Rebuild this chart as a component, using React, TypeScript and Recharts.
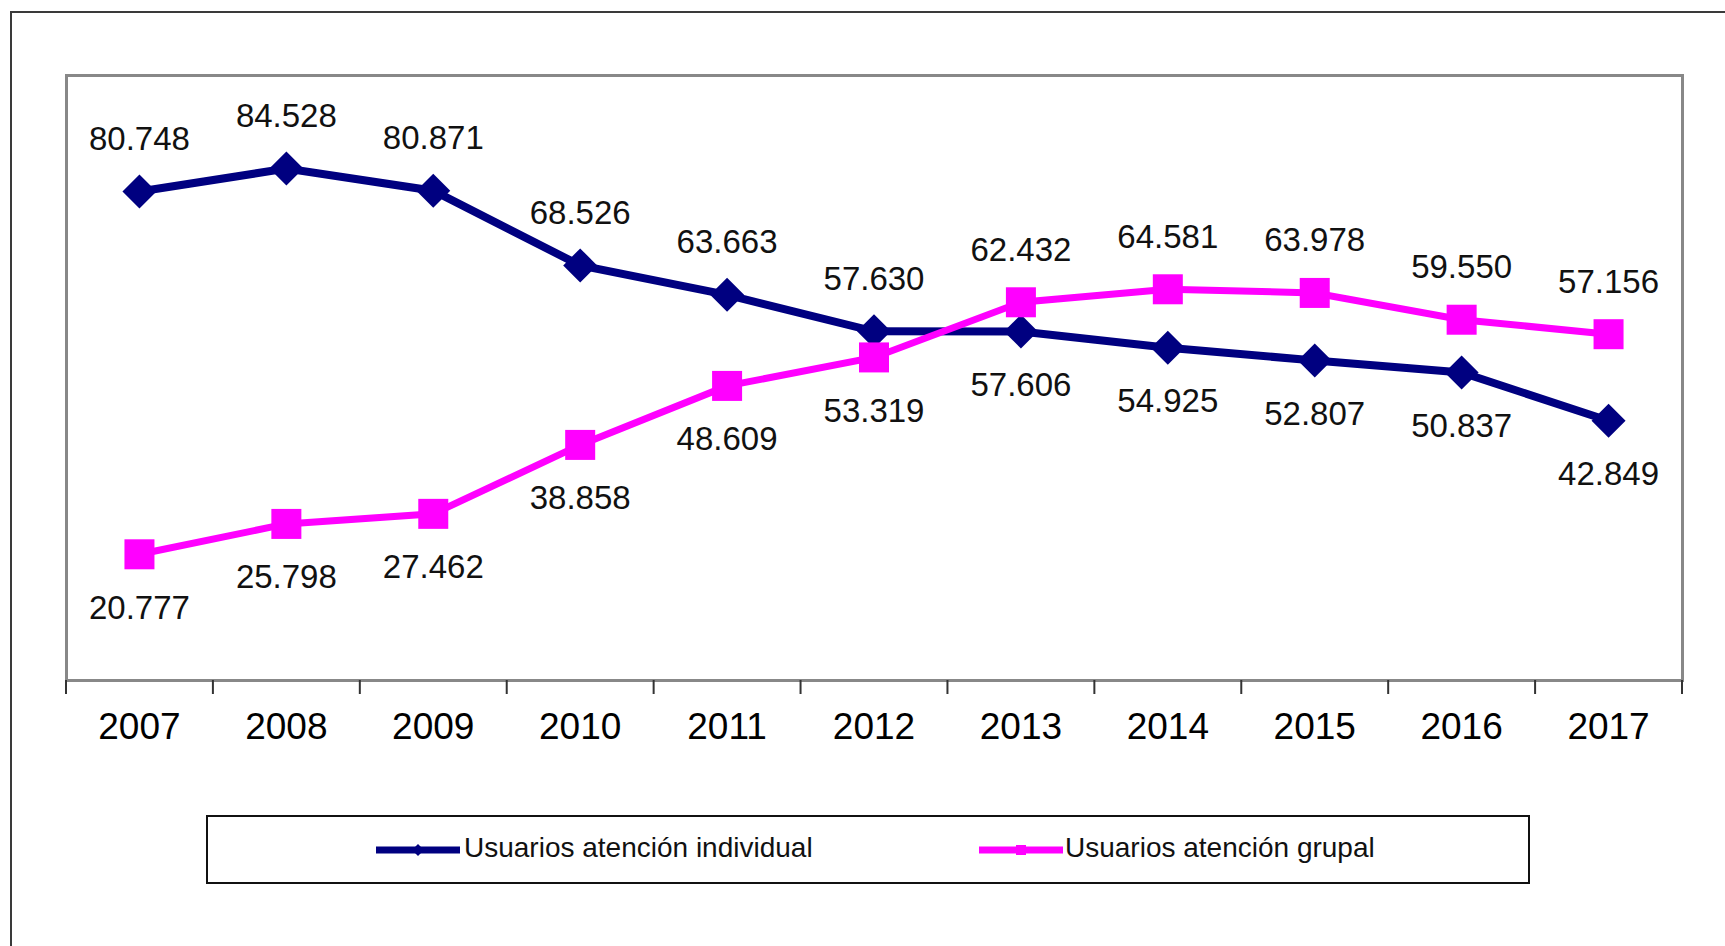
import React from "react";
import { LineChart, Line, XAxis, YAxis, LabelList } from "recharts";

const YEARS = ["2007", "2008", "2009", "2010", "2011", "2012", "2013", "2014", "2015", "2016", "2017"];
const INDIVIDUAL = [80748, 84528, 80871, 68526, 63663, 57630, 57606, 54925, 52807, 50837, 42849];
const GRUPAL = [20777, 25798, 27462, 38858, 48609, 53319, 62432, 64581, 63978, 59550, 57156];

const NAVY = "#000080";
const PINK = "#FF00FF";
const FONT = "'Liberation Sans', Arial, sans-serif";

const W = 1725;
const H = 946;
const PLOT_LEFT = 66;
const PLOT_RIGHT = 1682;
const PLOT_TOP = 75;
const PLOT_BOTTOM = 680;
const BAND = (PLOT_RIGHT - PLOT_LEFT) / YEARS.length;

const data = YEARS.map((year, i) => ({
  year,
  individual: INDIVIDUAL[i],
  grupal: GRUPAL[i],
}));

const fmt = (v: number) => v.toString().replace(/\B(?=(\d{3})+(?!\d))/g, ".");

function Diamond({ cx, cy }: any) {
  if (cx == null || cy == null) return null;
  const r = 17;
  return <polygon points={`${cx},${cy - r} ${cx + r},${cy} ${cx},${cy + r} ${cx - r},${cy}`} fill={NAVY} />;
}

function Square({ cx, cy }: any) {
  if (cx == null || cy == null) return null;
  const s = 30;
  return <rect x={cx - s / 2} y={cy - s / 2} width={s} height={s} fill={PINK} />;
}

// label goes above the point when this series is the higher one, below otherwise
const makeLabel = (mine: number[], other: number[]) => (props: any) => {
  const { x, y, value, index } = props;
  const above = mine[index] >= other[index];
  return (
    <text
      x={x}
      y={above ? y - 53 : y + 53}
      textAnchor="middle"
      dominantBaseline="central"
      fontSize={33}
      fontFamily={FONT}
      fill="#111"
    >
      {fmt(value)}
    </text>
  );
};

function YearTick({ x, payload, index }: any) {
  const half = BAND / 2;
  return (
    <g>
      <line x1={x - half} x2={x - half} y1={PLOT_BOTTOM} y2={PLOT_BOTTOM + 14} stroke="#333" strokeWidth={2} />
      {index === YEARS.length - 1 && (
        <line x1={x + half} x2={x + half} y1={PLOT_BOTTOM} y2={PLOT_BOTTOM + 14} stroke="#333" strokeWidth={2} />
      )}
      <text x={x} y={726} textAnchor="middle" dominantBaseline="central" fontSize={37} fontFamily={FONT} fill="#000">
        {payload.value}
      </text>
    </g>
  );
}

function LegendBox() {
  return (
    <div
      style={{
        position: "absolute",
        left: 206,
        top: 815,
        width: 1324,
        height: 69,
        border: "2px solid #111",
        boxSizing: "border-box",
        fontFamily: FONT,
        fontSize: 28,
        color: "#111",
      }}
    >
      <svg width={90} height={20} style={{ position: "absolute", left: 166, top: 23 }}>
        <line x1={2} x2={86} y1={10} y2={10} stroke={NAVY} strokeWidth={7} />
        <polygon points="44,4 50,10 44,16 38,10" fill={NAVY} />
      </svg>
      <span style={{ position: "absolute", left: 256, top: 15, lineHeight: "32px", whiteSpace: "nowrap" }}>
        Usuarios atención individual
      </span>
      <svg width={90} height={20} style={{ position: "absolute", left: 769, top: 23 }}>
        <line x1={2} x2={86} y1={10} y2={10} stroke={PINK} strokeWidth={7} />
        <rect x={39} y={5} width={10} height={10} fill={PINK} />
      </svg>
      <span style={{ position: "absolute", left: 857, top: 15, lineHeight: "32px", whiteSpace: "nowrap" }}>
        Usuarios atención grupal
      </span>
    </div>
  );
}

export default function App() {
  return (
    <div style={{ position: "absolute", left: 0, top: 0, width: W, height: H, background: "#fff", overflow: "hidden" }}>
      <div
        style={{
          position: "absolute",
          left: 10,
          top: 11,
          width: W,
          height: H,
          borderLeft: "2px solid #3a3a3a",
          borderTop: "2px solid #3a3a3a",
        }}
      />
      {/* plot area frame */}
      <div
        style={{
          position: "absolute",
          left: PLOT_LEFT - 1.5,
          top: PLOT_TOP - 1.5,
          width: PLOT_RIGHT - PLOT_LEFT + 3,
          height: PLOT_BOTTOM - PLOT_TOP + 3,
          border: "3px solid #888",
          boxSizing: "border-box",
        }}
      />
      <div style={{ position: "absolute", left: 0, top: 0 }}>
        <LineChart
          width={W}
          height={H}
          data={data}
          margin={{ top: PLOT_TOP, left: PLOT_LEFT, right: W - PLOT_RIGHT, bottom: H - PLOT_BOTTOM - 60 }}
        >
          <XAxis
            dataKey="year"
            height={60}
            axisLine={false}
            tickLine={false}
            padding={{ left: BAND / 2, right: BAND / 2 }}
            interval={0}
            tick={<YearTick />}
          />
          <YAxis hide domain={[0, 100000]} />
          <Line
            type="linear"
            dataKey="individual"
            stroke={NAVY}
            strokeWidth={8}
            dot={<Diamond />}
            activeDot={false}
            isAnimationActive={false}
          >
            <LabelList dataKey="individual" content={makeLabel(INDIVIDUAL, GRUPAL)} />
          </Line>
          <Line
            type="linear"
            dataKey="grupal"
            stroke={PINK}
            strokeWidth={7}
            dot={<Square />}
            activeDot={false}
            isAnimationActive={false}
          >
            <LabelList dataKey="grupal" content={makeLabel(GRUPAL, INDIVIDUAL)} />
          </Line>
        </LineChart>
      </div>
      <LegendBox />
    </div>
  );
}
